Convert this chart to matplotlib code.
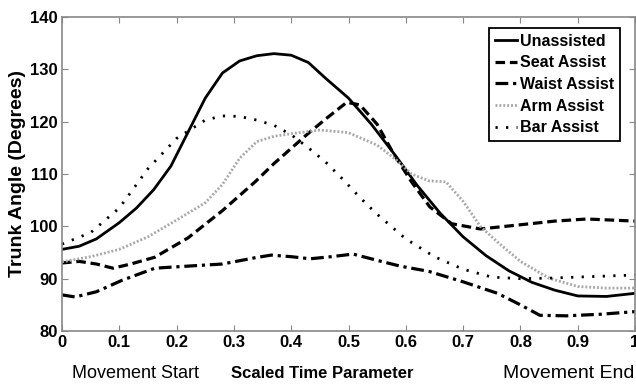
import matplotlib
matplotlib.use("Agg")
from matplotlib import pyplot as plt

plt.rcParams['font.family'] = ['Liberation Sans', 'DejaVu Sans']

# Unassisted (solid)
t_un = [0, 0.03, 0.06, 0.1, 0.13, 0.16, 0.19, 0.22, 0.25, 0.28, 0.31, 0.34, 0.37, 0.4,
        0.43, 0.46, 0.5, 0.54, 0.58, 0.62, 0.66, 0.7, 0.74, 0.78, 0.82, 0.86, 0.9, 0.95, 1.0]
v_un = [95.6, 96.2, 97.6, 100.7, 103.5, 107, 111.5, 118, 124.5, 129.3, 131.6, 132.6, 133, 132.7,
        131.3, 128.3, 124.5, 119.5, 113.8, 107.8, 102.5, 98, 94.4, 91.5, 89.3, 87.8, 86.7, 86.6, 87.2]

# Seat Assist (dashed)
t_seat = [0, 0.03, 0.06, 0.089, 0.12, 0.162, 0.22, 0.28, 0.337, 0.37, 0.427, 0.46, 0.497,
          0.52, 0.55, 0.578, 0.61, 0.642, 0.68, 0.73, 0.8, 0.86, 0.916, 1.0]
v_seat = [93, 93.3, 92.8, 92, 92.8, 94.1, 97.8, 103, 108.5, 112, 117.5, 120.5, 123.7,
          123.2, 119.5, 114, 108.5, 103.7, 100.5, 99.5, 100.3, 101, 101.4, 101]

# Waist Assist (dash-dot)
t_waist = [0, 0.023, 0.06, 0.105, 0.162, 0.22, 0.28, 0.337, 0.365, 0.4, 0.433, 0.47, 0.508,
           0.55, 0.59, 0.64, 0.7, 0.76, 0.8, 0.834, 0.88, 0.94, 1.0]
v_waist = [86.9, 86.5, 87.5, 89.7, 92, 92.4, 92.8, 94, 94.5, 94.2, 93.8, 94.2, 94.7,
           93.5, 92.4, 91.4, 89.4, 87.2, 85, 83, 82.9, 83.2, 83.7]

# Arm Assist (grey dotted)
t_arm = [0, 0.05, 0.1, 0.15, 0.2, 0.25, 0.28, 0.31, 0.34, 0.37, 0.4, 0.45, 0.5, 0.55, 0.58,
         0.61, 0.64, 0.67, 0.7, 0.73, 0.76, 0.8, 0.85, 0.9, 0.95, 1.0]
v_arm = [93.2, 94.2, 95.6, 98, 101.2, 104.5, 108, 113, 116.2, 117.2, 117.7, 118.4, 117.9, 115.5, 113,
         110, 108.7, 108.5, 104.8, 100, 97, 93.3, 90.1, 88.5, 88.2, 88.2]

# Bar Assist (sparse dots)
t_bar = [0, 0.05, 0.1, 0.15, 0.2, 0.25, 0.28, 0.31, 0.34, 0.37, 0.4, 0.43, 0.46, 0.49, 0.52,
         0.55, 0.6, 0.65, 0.7, 0.75, 0.8, 0.85, 0.9, 0.95, 1.0]
v_bar = [96.6, 98.8, 103.5, 111, 116.8, 120.3, 121.1, 121, 120.3, 119.3, 117.5, 115, 112.3, 109, 105.5,
         102.3, 97.6, 94.2, 91.8, 90.3, 90, 90.1, 90.3, 90.5, 90.7]

x_ticks = [0, 0.1, 0.2, 0.3, 0.4, 0.5, 0.6, 0.7, 0.8, 0.9, 1]
x_labels = ['0', '0.1', '0.2', '0.3', '0.4', '0.5', '0.6', '0.7', '0.8', '0.9', '1']
y_ticks = [80, 90, 100, 110, 120, 130, 140]

fig = plt.figure(figsize=(6.36, 3.85), dpi=100)
ax = fig.add_axes([62 / 636, 1 - 331 / 385, 573 / 636, 314 / 385])

ax.plot(t_un, v_un, color='black', lw=2, label='Unassisted')
ax.plot(t_seat, v_seat, color='black', lw=2.3, linestyle=(0, (3, 1.5)), label='Seat Assist')
ax.plot(t_waist, v_waist, color='black', lw=2.3, linestyle=(0, (4, 1.5, 1, 1.5)), label='Waist Assist')
ax.plot(t_arm, v_arm, color='#a8a8a8', lw=2, linestyle=(0, (0.7, 0.7)), label='Arm Assist')
ax.plot(t_bar, v_bar, color='black', lw=2, linestyle=(0, (0.8, 3)), label='Bar Assist')

ax.set_xlim(0, 1)
ax.set_ylim(80, 140)
ax.set_xticks(x_ticks)
ax.set_xticklabels(x_labels)
ax.set_yticks(y_ticks)
for s in ax.spines.values():
    s.set_color('#888888')
    s.set_linewidth(1.2)
ax.tick_params(direction='in', length=4, color='#888888', top=True, right=True,
               labelsize=12, pad=3)
for lab in ax.get_xticklabels() + ax.get_yticklabels():
    lab.set_fontweight('bold')

ax.set_ylabel('Trunk Angle (Degrees)', fontsize=14, fontweight='bold', labelpad=3)

leg = ax.legend(loc='upper right', bbox_to_anchor=(0.974, 0.965), borderaxespad=0,
                prop={'weight': 'bold', 'size': 11.5}, handlelength=1.4,
                handletextpad=0.2, labelspacing=0.42, borderpad=0.35, fancybox=False,
                framealpha=1)
leg.get_frame().set_edgecolor('black')
leg.get_frame().set_linewidth(1.3)

fig.text(136 / 636, 1 - 374 / 385, 'Movement Start', ha='center', va='center', fontsize=13)
fig.text(322 / 636, 1 - 374 / 385, 'Scaled Time Parameter', ha='center', va='center',
         fontsize=12, fontweight='bold')
fig.text(503 / 636, 1 - 374 / 385, 'Movement End', ha='left', va='center', fontsize=14)

fig.savefig('out.png', dpi=100)
